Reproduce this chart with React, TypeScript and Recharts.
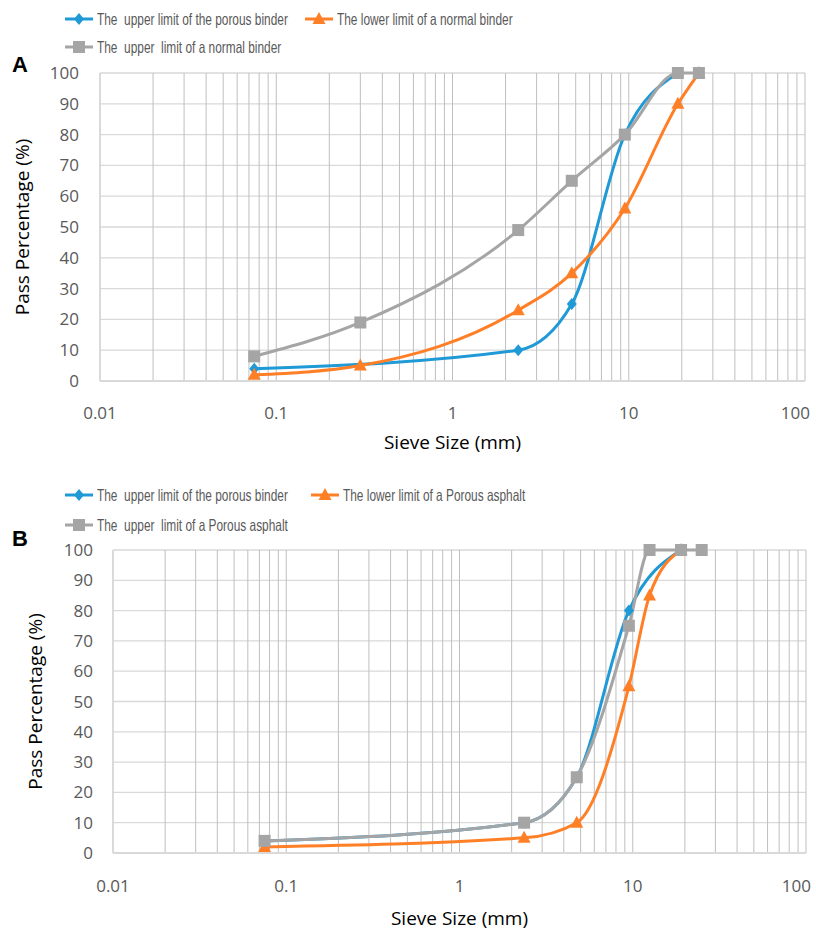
import { LineChart, Line, XAxis, YAxis, CartesianGrid } from "recharts";

// sieve sizes in mm, pass percentage in %
const decadeTicks = [0.01, 0.1, 1, 10, 100];
const minorSteps = [1, 2, 3, 4, 5, 6, 7, 8, 9];
const gridTicks = decadeTicks
  .slice(0, 4)
  .flatMap((d) => minorSteps.map((m) => Number((d * m).toPrecision(3))))
  .concat([100]);
const yTicks = [0, 10, 20, 30, 40, 50, 60, 70, 80, 90, 100];

// Chart A
const aPorousSizes = [0.075, 2.36, 4.75, 9.5, 19];
const aPorousPass = [4, 10, 25, 80, 100];
const aNormalLowSizes = [0.075, 0.3, 2.36, 4.75, 9.5, 19, 25];
const aNormalLowPass = [2, 5, 23, 35, 56, 90, 100];
const aNormalHighSizes = [0.075, 0.3, 2.36, 4.75, 9.5, 19, 25];
const aNormalHighPass = [8, 19, 49, 65, 80, 100, 100];

// Chart B
const bPorousSizes = [0.075, 2.36, 4.75, 9.5, 19];
const bPorousPass = [4, 10, 25, 80, 100];
const bAsphaltLowSizes = [0.075, 2.36, 4.75, 9.5, 12.5, 19];
const bAsphaltLowPass = [2, 5, 10, 55, 85, 100];
const bAsphaltHighSizes = [0.075, 2.36, 4.75, 9.5, 12.5, 19, 25];
const bAsphaltHighPass = [4, 10, 25, 75, 100, 100, 100];

const BLUE = "#1f9ad6";
const ORANGE = "#ff7f27";
const GRAY = "#a5a5a5";

const FONT = "'Open Sans', sans-serif";
const LEGEND_FONT = "'Liberation Sans', Arial, sans-serif";

type Shape = "diamond" | "triangle" | "square";

const zip = (sizes: number[], pass: number[]) =>
  sizes.map((size, i) => ({ size, pass: pass[i] }));

function Marker({ cx, cy, shape, color }: { cx: number; cy: number; shape: Shape; color: string }) {
  if (shape === "diamond") {
    return (
      <polygon
        points={`${cx},${cy - 6} ${cx + 5},${cy} ${cx},${cy + 6} ${cx - 5},${cy}`}
        fill={color}
      />
    );
  }
  if (shape === "triangle") {
    return <polygon points={`${cx},${cy - 7} ${cx + 6.5},${cy + 5} ${cx - 6.5},${cy + 5}`} fill={color} />;
  }
  return <rect x={cx - 6} y={cy - 6} width={12} height={12} fill={color} />;
}

interface SeriesDef {
  name: string;
  sizes: number[];
  pass: number[];
  color: string;
  shape: Shape;
}

interface PanelProps {
  top: number;
  letter: string;
  letterY: number;
  series: SeriesDef[];
  legendRows: number[];
  legendSecondX: number;
  margin: { top: number; right: number; bottom: number; left: number };
  yAxisWidth: number;
  yTitleOffset: number;
  yTickMargin: number;
  xAxisHeight: number;
  xTickDy: number;
}

function LegendItem({ x, y, s }: { x: number; y: number; s: SeriesDef }) {
  return (
    <div
      style={{
        position: "absolute",
        left: x,
        top: y - 10,
        height: 20,
        display: "flex",
        alignItems: "center",
        whiteSpace: "pre"
      }}
    >
      <svg width={30} height={16}>
        <line x1={0} y1={8} x2={28} y2={8} stroke={s.color} strokeWidth={3} />
        <Marker cx={14} cy={8} shape={s.shape} color={s.color} />
      </svg>
      {/* the source legend is set in a narrow face; squeeze Liberation Sans to match */}
      <span
        style={{
          marginLeft: 2,
          fontFamily: LEGEND_FONT,
          fontSize: 16.5,
          color: "#595959",
          display: "inline-block",
          transform: "scaleX(0.72)",
          transformOrigin: "left center"
        }}
      >
        {s.name}
      </span>
    </div>
  );
}

function Panel(p: PanelProps) {
  const SieveTick = (props: any) => {
    const { x, y, payload } = props;
    if (!decadeTicks.includes(payload.value)) return <g />;
    const last = payload.value === 100;
    return (
      <text
        x={last ? x + 5 : x}
        y={y + p.xTickDy}
        textAnchor={last ? "end" : "middle"}
        fill="#595959"
        fontSize={17}
        fontFamily={FONT}
      >
        {String(payload.value)}
      </text>
    );
  };

  return (
    <div style={{ position: "absolute", left: 0, top: p.top, width: 816, height: 465 }}>
      <div
        style={{
          position: "absolute",
          left: 12,
          top: p.letterY - 20,
          fontFamily: "'Liberation Sans', sans-serif",
          fontWeight: "bold",
          fontSize: 22
        }}
      >
        {p.letter}
      </div>
      <LegendItem x={65} y={p.legendRows[0]} s={p.series[0]} />
      <LegendItem x={p.legendSecondX} y={p.legendRows[0]} s={p.series[1]} />
      <LegendItem x={65} y={p.legendRows[1]} s={p.series[2]} />
      <LineChart width={816} height={465} margin={p.margin}>
        <CartesianGrid vertical={false} stroke="#d9d9d9" strokeWidth={1.3} />
        <CartesianGrid horizontal={false} stroke="#bfbfbf" strokeWidth={1} />
        <XAxis
          dataKey="size"
          type="number"
          scale="log"
          domain={[0.01, 100]}
          ticks={gridTicks}
          interval={0}
          allowDataOverflow
          height={p.xAxisHeight}
          tickSize={0}
          tickMargin={0}
          tick={SieveTick}
          axisLine={{ stroke: "#d9d9d9", strokeWidth: 2 }}
          tickLine={false}
          label={{
            value: "Sieve Size (mm)",
            position: "insideBottom",
            offset: 2,
            fill: "#000",
            fontSize: 19,
            fontFamily: FONT
          }}
        />
        <YAxis
          type="number"
          domain={[0, 100]}
          ticks={yTicks}
          interval={0}
          width={p.yAxisWidth}
          tickSize={0}
          tickMargin={p.yTickMargin}
          tickLine={false}
          axisLine={{ stroke: "#d9d9d9", strokeWidth: 1.5 }}
          tick={{ fill: "#595959", fontSize: 17, fontFamily: FONT }}
          label={{
            value: "Pass Percentage (%)",
            angle: -90,
            position: "insideLeft",
            offset: p.yTitleOffset,
            textAnchor: "middle",
            style: { textAnchor: "middle" },
            fill: "#000",
            fontSize: 19,
            fontFamily: FONT
          }}
        />
        {p.series.map((s) => (
          <Line
            key={s.name}
            data={zip(s.sizes, s.pass)}
            dataKey="pass"
            name={s.name}
            type="monotone"
            stroke={s.color}
            strokeWidth={3}
            isAnimationActive={false}
            dot={(d: any) => (
              <Marker key={`${s.name}-${d.index}`} cx={d.cx} cy={d.cy} shape={s.shape} color={s.color} />
            )}
            activeDot={false}
          />
        ))}
      </LineChart>
    </div>
  );
}

const seriesA: SeriesDef[] = [
  { name: "The  upper limit of the porous binder", sizes: aPorousSizes, pass: aPorousPass, color: BLUE, shape: "diamond" },
  { name: "The lower limit of a normal binder", sizes: aNormalLowSizes, pass: aNormalLowPass, color: ORANGE, shape: "triangle" },
  { name: "The  upper  limit of a normal binder", sizes: aNormalHighSizes, pass: aNormalHighPass, color: GRAY, shape: "square" }
];

const seriesB: SeriesDef[] = [
  { name: "The  upper limit of the porous binder", sizes: bPorousSizes, pass: bPorousPass, color: BLUE, shape: "diamond" },
  { name: "The lower limit of a Porous asphalt", sizes: bAsphaltLowSizes, pass: bAsphaltLowPass, color: ORANGE, shape: "triangle" },
  { name: "The  upper  limit of a Porous asphalt", sizes: bAsphaltHighSizes, pass: bAsphaltHighPass, color: GRAY, shape: "square" }
];

export default function App() {
  return (
    <div style={{ position: "absolute", left: 0, top: 0, width: 816, height: 931, background: "#fff" }}>
      <Panel
        top={0}
        letter="A"
        letterY={72}
        series={seriesA}
        legendRows={[19, 47]}
        legendSecondX={305}
        margin={{ top: 73, right: 11, bottom: 14, left: 0 }}
        yAxisWidth={100}
        yTitleOffset={22}
        yTickMargin={21}
        xAxisHeight={70}
        xTickDy={38}
      />
      <Panel
        top={466}
        letter="B"
        letterY={80}
        series={seriesB}
        legendRows={[29, 59]}
        legendSecondX={311}
        margin={{ top: 84, right: 10, bottom: 4, left: 0 }}
        yAxisWidth={113}
        yTitleOffset={35}
        yTickMargin={20}
        xAxisHeight={74}
        xTickDy={39}
      />
    </div>
  );
}
